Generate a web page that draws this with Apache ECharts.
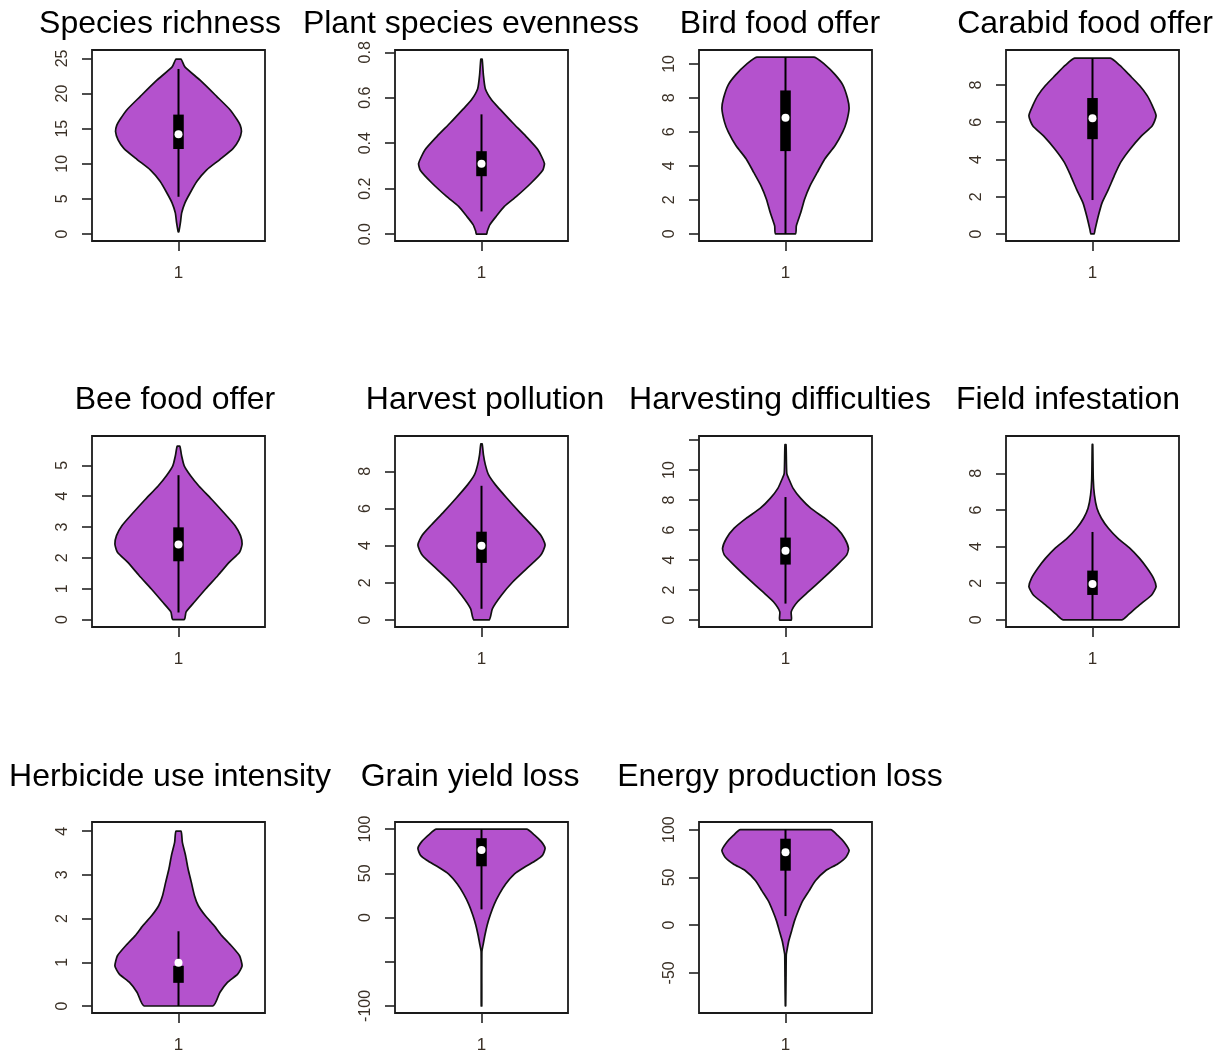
<!DOCTYPE html>
<html>
<head>
<meta charset="utf-8">
<script src="https://cdn.jsdelivr.net/npm/echarts@6/dist/echarts.min.js"></script>
<style>
html,body{margin:0;padding:0;background:#fff;}
#main{width:1225px;height:1054px;}
</style>
</head>
<body>
<div id="main"></div>
<script>
// ---------- DATA ----------
const titles = ['Species richness','Plant species evenness','Bird food offer','Carabid food offer',
  'Bee food offer','Harvest pollution','Harvesting difficulties','Field infestation',
  'Herbicide use intensity','Grain yield loss','Energy production loss'];

// y-axis extents (R adds 4%)
const yMin = [-1.0, -0.03, -0.42, -0.38, -0.24, -0.38, -0.46, -0.39, -0.16, -108, -92];
const yMax = [26.2, 0.81, 10.82, 9.88, 5.95, 9.9, 12.27, 10.04, 4.21, 108, 108];

// tick positions and labelled ticks
const yTicks = [
  [0,5,10,15,20,25], [0,0.2,0.4,0.6,0.8], [0,2,4,6,8,10], [0,2,4,6,8],
  [0,1,2,3,4,5], [0,2,4,6,8], [0,2,4,6,8,10,12], [0,2,4,6,8],
  [0,1,2,3,4], [-100,-50,0,50,100], [-50,0,50,100]];
const yLabels = [
  [0,5,10,15,20,25], [0,0.2,0.4,0.6,0.8], [0,2,4,6,8,10], [0,2,4,6,8],
  [0,1,2,3,4,5], [0,2,4,6,8], [0,2,4,6,8,10], [0,2,4,6,8],
  [0,1,2,3,4], [-100,0,50,100], [-50,0,50,100]];
const xTickLabel = '1';

// violin profiles: y values (bottom -> top) and relative half-widths
const richnessY = [0.3, 1.6, 3.0, 4.4, 5.8, 7.5, 9.1, 10.6, 12.2, 13.4, 14.6, 15.5, 16.3, 17.7, 19.6, 21.9, 23.8, 24.9];
const richnessW = [0.005, 0.03, 0.05, 0.10, 0.18, 0.29, 0.44, 0.65, 0.86, 0.95, 0.99, 0.97, 0.92, 0.81, 0.60, 0.34, 0.10, 0.04];
const richnessBox = [5.3, 12.1, 14.2, 17.0, 23.5];

const evennessY = [0.0, 0.012, 0.041, 0.078, 0.122, 0.166, 0.225, 0.28, 0.31, 0.37, 0.43, 0.49, 0.55, 0.59, 0.64, 0.70, 0.77];
const evennessW = [0.08, 0.09, 0.13, 0.23, 0.36, 0.55, 0.78, 0.96, 0.99, 0.89, 0.70, 0.49, 0.29, 0.16, 0.06, 0.03, 0.01];
const evennessBox = [0.10, 0.255, 0.31, 0.365, 0.527];

const birdY = [0, 0.46, 1.25, 2.04, 2.83, 3.62, 4.42, 5.2, 6.0, 6.59, 7.39, 7.98, 8.77, 9.37, 9.96, 10.4];
const birdW = [0.155, 0.17, 0.24, 0.30, 0.385, 0.50, 0.62, 0.78, 0.90, 0.96, 1.0, 0.975, 0.90, 0.78, 0.62, 0.45];
const birdBox = [0, 4.87, 6.83, 8.44, 10.4];

const carabidY = [0, 0.23, 0.95, 1.67, 2.39, 3.11, 3.83, 4.55, 5.27, 5.81, 6.35, 6.89, 7.43, 7.97, 8.5, 9.05, 9.44];
const carabidW = [0.025, 0.04, 0.09, 0.15, 0.25, 0.34, 0.44, 0.59, 0.77, 0.94, 1.0, 0.94, 0.86, 0.74, 0.59, 0.43, 0.28];
const carabidBox = [1.82, 5.09, 6.22, 7.3, 9.44];

const beeY = [0, 0.25, 0.57, 1.0, 1.43, 1.86, 2.18, 2.45, 2.72, 3.04, 3.47, 3.9, 4.33, 4.66, 4.98, 5.3, 5.62];
const beeW = [0.09, 0.12, 0.25, 0.43, 0.62, 0.80, 0.96, 1.0, 0.975, 0.89, 0.71, 0.52, 0.32, 0.19, 0.09, 0.05, 0.02];
const beeBox = [0.23, 1.89, 2.43, 2.99, 4.68];

const pollutionY = [0, 0.6, 1.32, 2.04, 2.76, 3.48, 4.03, 4.57, 5.11, 5.83, 6.55, 7.27, 7.82, 8.36, 8.9, 9.48];
const pollutionW = [0.12, 0.17, 0.31, 0.49, 0.71, 0.93, 1.0, 0.93, 0.79, 0.59, 0.40, 0.22, 0.11, 0.06, 0.03, 0.01];
const pollutionBox = [0.6, 3.07, 3.99, 4.75, 7.22];

const difficultiesY = [0, 0.56, 1.22, 1.89, 2.78, 3.67, 4.33, 4.78, 5.44, 6.11, 6.78, 7.44, 8.11, 8.78, 9.44, 9.78, 11.7];
const difficultiesW = [0.09, 0.09, 0.19, 0.36, 0.59, 0.81, 0.96, 0.99, 0.93, 0.81, 0.62, 0.40, 0.24, 0.12, 0.05, 0.02, 0.008];
const difficultiesBox = [1.1, 3.7, 4.62, 5.5, 8.2];

const infestationY = [0, 0.27, 0.82, 1.36, 1.82, 2.27, 2.82, 3.36, 3.91, 4.45, 5.0, 5.55, 6.09, 6.82, 7.69, 9.58];
const infestationW = [0.46, 0.56, 0.74, 0.93, 1.0, 0.96, 0.86, 0.74, 0.59, 0.40, 0.25, 0.14, 0.07, 0.03, 0.012, 0.004];
const infestationBox = [0, 1.36, 1.96, 2.69, 4.8];

const herbicideY = [0, 0.31, 0.54, 0.73, 0.92, 1.15, 1.38, 1.61, 1.84, 2.07, 2.30, 2.53, 2.84, 3.14, 3.45, 3.75, 4.0];
const herbicideW = [0.54, 0.65, 0.77, 0.93, 1.0, 0.96, 0.83, 0.68, 0.56, 0.42, 0.31, 0.25, 0.20, 0.15, 0.11, 0.06, 0.04];
const herbicideBox = [0, 0.53, 0.99, 0.92, 1.71];

const grainY = [-100, -38.7, -31, -19.5, -8.4, 3.4, 14.9, 26.4, 37.9, 49.4, 57.1, 64.8, 70.5, 78.2, 85.8, 93.5, 100];
const grainW = [0.004, 0.006, 0.025, 0.055, 0.09, 0.14, 0.20, 0.28, 0.38, 0.52, 0.68, 0.86, 0.96, 1.0, 0.94, 0.83, 0.71];
const grainBox = [9.2, 57.9, 76.2, 89.7, 100];

const energyY = [-84.5, -55, -31, -27.5, -16.9, -6.3, 4.2, 14.8, 25.4, 35.9, 46.5, 57, 64.1, 71.1, 78.2, 87, 94, 100];
const energyW = [0.003, 0.008, 0.012, 0.02, 0.05, 0.095, 0.14, 0.20, 0.27, 0.37, 0.47, 0.63, 0.82, 0.95, 1.0, 0.92, 0.82, 0.71];
const energyBox = [9.5, 57, 76.4, 90.5, 100];

const profilesY = [richnessY, evennessY, birdY, carabidY, beeY, pollutionY, difficultiesY, infestationY, herbicideY, grainY, energyY];
const profilesW = [richnessW, evennessW, birdW, carabidW, beeW, pollutionW, difficultiesW, infestationW, herbicideW, grainW, energyW];
const boxStats = [richnessBox, evennessBox, birdBox, carabidBox, beeBox, pollutionBox, difficultiesBox, infestationBox, herbicideBox, grainBox, energyBox];

// ---------- LAYOUT / STYLE ----------
const colLeft = [92, 395, 699, 1006];
const rowTop = [50, 436, 822];
const boxW = 173, boxH = 191;
const titleX = [160, 471, 780, 1085, 175, 485, 780, 1068, 170, 470, 780];
const titleTop = [8, 384, 761];
const XR = 1.36;        // half range of x axis in density units
const IQR_HALF = 0.083; // half width of black IQR box
const VIOLIN = '#B452CD';
const LABEL_COLOR = '#3a3026';
const FONT = "'Liberation Sans', Arial, sans-serif";

function fmt(i, v) {
  if (i === 1) return v.toFixed(1);
  return String(v);
}

const grids = [], xAxes = [], yAxes = [], series = [], titleOpts = [];
titles.forEach((t, i) => {
  const r = Math.floor(i / 4), c = i % 4;
  grids.push({left: colLeft[c], top: rowTop[r], width: boxW, height: boxH,
    show: true, borderColor: '#1a1a1a', borderWidth: 1.8, backgroundColor: 'transparent', containLabel: false});
  xAxes.push({type: 'value', gridIndex: i, min: -XR, max: XR, position: 'bottom',
    axisLine: {show: false, onZero: false}, splitLine: {show: false},
    axisTick: {show: true, length: 10, lineStyle: {color: '#222', width: 1.6}, customValues: [0]},
    axisLabel: {show: true, margin: 24, fontSize: 17, color: LABEL_COLOR, fontFamily: FONT,
      customValues: [0], formatter: () => xTickLabel}});
  yAxes.push({type: 'value', gridIndex: i, min: yMin[i], max: yMax[i], position: 'left',
    axisLine: {show: false, onZero: false}, splitLine: {show: false},
    axisTick: {show: true, length: 10, lineStyle: {color: '#222', width: 1.6}, customValues: yTicks[i]},
    axisLabel: {show: true, rotate: 90, margin: 21, fontSize: 16, color: LABEL_COLOR, fontFamily: FONT,
      customValues: yLabels[i], formatter: (v) => fmt(i, v)}});
  titleOpts.push({text: t, left: titleX[i], top: titleTop[r], textAlign: 'center', padding: 0,
    textStyle: {fontSize: 32, fontWeight: 'normal', color: '#000', fontFamily: FONT}});
  const ys = profilesY[i], ws = profilesW[i], b = boxStats[i];
  series.push({
    type: 'custom', xAxisIndex: i, yAxisIndex: i, silent: true, animation: false,
    data: [[0, b[2]]],
    renderItem: function (params, api) {
      const right = ys.map((y, k) => api.coord([ws[k], y]));
      const left = ys.map((y, k) => api.coord([-ws[k], y])).reverse();
      const pts = right.concat(left);
      const xs = pts.map(p => p[0]), yv = pts.map(p => p[1]);
      const cons = [[Math.min(...xs), Math.min(...yv)], [Math.max(...xs), Math.max(...yv)]];
      const lo = api.coord([0, b[0]]), hi = api.coord([0, b[4]]);
      const q1 = api.coord([-IQR_HALF, b[1]]), q3 = api.coord([IQR_HALF, b[3]]);
      const med = api.coord([0, b[2]]);
      return {type: 'group', children: [
        {type: 'polygon', shape: {points: pts, smooth: 0.2, smoothConstraint: cons},
          style: {fill: VIOLIN, stroke: '#111', lineWidth: 1.7, lineJoin: 'round'}},
        {type: 'line', shape: {x1: lo[0], y1: lo[1], x2: hi[0], y2: hi[1]},
          style: {stroke: '#000', lineWidth: 2}},
        {type: 'rect', shape: {x: q1[0], y: Math.min(q1[1], q3[1]), width: q3[0] - q1[0], height: Math.abs(q1[1] - q3[1])},
          style: {fill: '#000'}},
        {type: 'circle', shape: {cx: med[0], cy: med[1], r: 4}, style: {fill: '#fff'}}
      ]};
    }
  });
});

const chart = echarts.init(document.getElementById('main'));
chart.setOption({
  animation: false,
  backgroundColor: '#fff',
  title: titleOpts,
  grid: grids,
  xAxis: xAxes,
  yAxis: yAxes,
  series: series
});
</script>
</body>
</html>
